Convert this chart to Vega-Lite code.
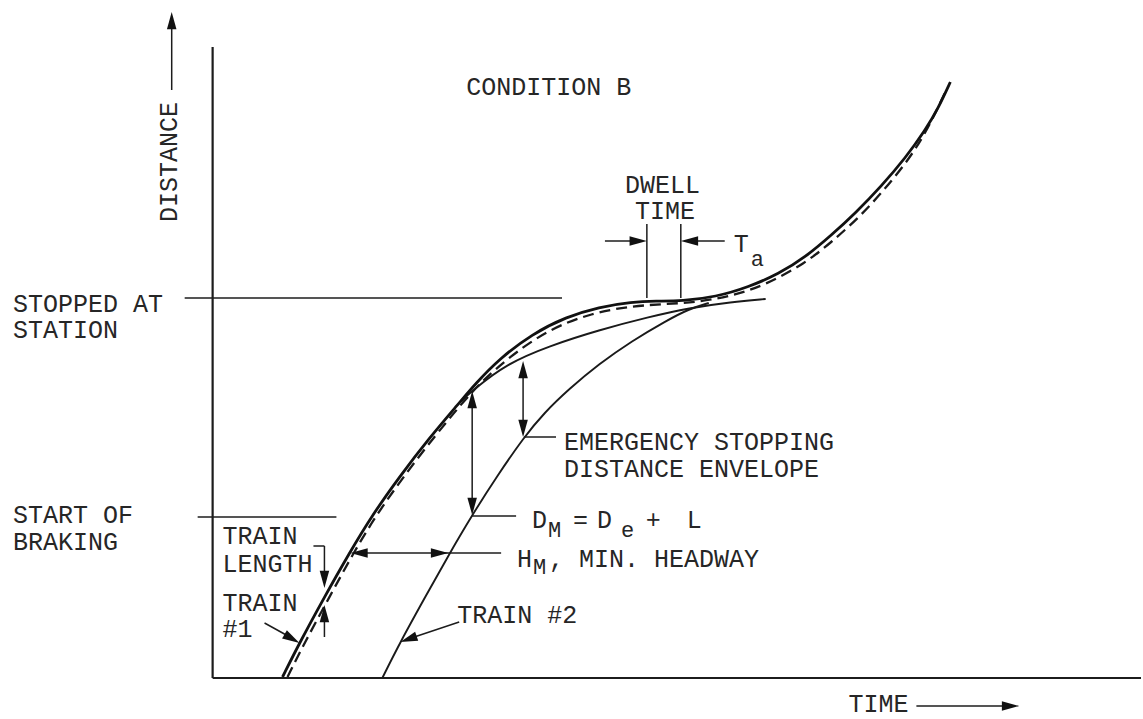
{
  "$schema": "https://vega.github.io/schema/vega-lite/v6.json",
  "autosize": {"type": "fit", "contains": "padding"},
  "width": 1143,
  "height": 719,
  "padding": 0,
  "background": "#ffffff",
  "config": {"view": {"stroke": null}},
  "datasets": {
    "curves": [
      {"curve": "train1", "t": 283, "d": 42},
      {"curve": "train1", "t": 300, "d": 76},
      {"curve": "train1", "t": 325, "d": 122},
      {"curve": "train1", "t": 350, "d": 166},
      {"curve": "train1", "t": 373, "d": 204},
      {"curve": "train1", "t": 400, "d": 242},
      {"curve": "train1", "t": 430, "d": 281},
      {"curve": "train1", "t": 460, "d": 316},
      {"curve": "train1", "t": 476, "d": 335},
      {"curve": "train1", "t": 500, "d": 360},
      {"curve": "train1", "t": 533, "d": 385},
      {"curve": "train1", "t": 567, "d": 402},
      {"curve": "train1", "t": 600, "d": 412},
      {"curve": "train1", "t": 633, "d": 417},
      {"curve": "train1", "t": 657, "d": 418},
      {"curve": "train1", "t": 683, "d": 418},
      {"curve": "train1", "t": 717, "d": 422},
      {"curve": "train1", "t": 750, "d": 432},
      {"curve": "train1", "t": 780, "d": 445},
      {"curve": "train1", "t": 807, "d": 462},
      {"curve": "train1", "t": 833, "d": 484},
      {"curve": "train1", "t": 857, "d": 506},
      {"curve": "train1", "t": 883, "d": 533},
      {"curve": "train1", "t": 907, "d": 561},
      {"curve": "train1", "t": 927, "d": 589},
      {"curve": "train1", "t": 940, "d": 611},
      {"curve": "train1", "t": 952, "d": 637},
      {"curve": "train1rear", "t": 288, "d": 42},
      {"curve": "train1rear", "t": 305, "d": 76},
      {"curve": "train1rear", "t": 330, "d": 122},
      {"curve": "train1rear", "t": 354, "d": 166},
      {"curve": "train1rear", "t": 377, "d": 204},
      {"curve": "train1rear", "t": 404, "d": 242},
      {"curve": "train1rear", "t": 434, "d": 281},
      {"curve": "train1rear", "t": 463, "d": 316},
      {"curve": "train1rear", "t": 481, "d": 336},
      {"curve": "train1rear", "t": 510, "d": 362},
      {"curve": "train1rear", "t": 550, "d": 390},
      {"curve": "train1rear", "t": 593, "d": 406},
      {"curve": "train1rear", "t": 633, "d": 413},
      {"curve": "train1rear", "t": 667, "d": 415},
      {"curve": "train1rear", "t": 700, "d": 417},
      {"curve": "train1rear", "t": 733, "d": 423},
      {"curve": "train1rear", "t": 767, "d": 434},
      {"curve": "train1rear", "t": 807, "d": 456},
      {"curve": "train1rear", "t": 833, "d": 477},
      {"curve": "train1rear", "t": 860, "d": 501},
      {"curve": "train1rear", "t": 883, "d": 526},
      {"curve": "train1rear", "t": 907, "d": 555},
      {"curve": "train1rear", "t": 927, "d": 585},
      {"curve": "train1rear", "t": 947, "d": 627},
      {"curve": "envelope", "t": 462, "d": 318},
      {"curve": "envelope", "t": 474, "d": 329},
      {"curve": "envelope", "t": 507, "d": 355},
      {"curve": "envelope", "t": 550, "d": 373},
      {"curve": "envelope", "t": 600, "d": 389},
      {"curve": "envelope", "t": 650, "d": 402},
      {"curve": "envelope", "t": 690, "d": 411},
      {"curve": "envelope", "t": 733, "d": 417},
      {"curve": "envelope", "t": 767, "d": 420},
      {"curve": "train2", "t": 383, "d": 41},
      {"curve": "train2", "t": 401, "d": 77},
      {"curve": "train2", "t": 426, "d": 122},
      {"curve": "train2", "t": 450, "d": 165},
      {"curve": "train2", "t": 473, "d": 204},
      {"curve": "train2", "t": 498, "d": 243},
      {"curve": "train2", "t": 525, "d": 282},
      {"curve": "train2", "t": 545, "d": 306},
      {"curve": "train2", "t": 570, "d": 330},
      {"curve": "train2", "t": 600, "d": 355},
      {"curve": "train2", "t": 633, "d": 378},
      {"curve": "train2", "t": 667, "d": 398},
      {"curve": "train2", "t": 690, "d": 410},
      {"curve": "train2", "t": 710, "d": 416}
    ],
    "rules": [
      {"part": "axis", "t": 213, "d": 672, "t2": 213, "d2": 41},
      {"part": "axis", "t": 213, "d": 41, "t2": 1143, "d2": 41},
      {"part": "arrow", "t": 172, "d": 692, "t2": 172, "d2": 629},
      {"part": "arrow", "t": 918, "d": 13, "t2": 1006, "d2": 13},
      {"part": "guide", "t": 185, "d": 421, "t2": 563, "d2": 421},
      {"part": "guide", "t": 198, "d": 202, "t2": 337, "d2": 202},
      {"part": "guide", "t": 648, "d": 495, "t2": 648, "d2": 421},
      {"part": "guide", "t": 682, "d": 495, "t2": 682, "d2": 421},
      {"part": "guide", "t": 606, "d": 478, "t2": 640, "d2": 478},
      {"part": "guide", "t": 690, "d": 478, "t2": 726, "d2": 478},
      {"part": "guide", "t": 314, "d": 173, "t2": 325, "d2": 173},
      {"part": "guide", "t": 325, "d": 173, "t2": 325, "d2": 139},
      {"part": "guide", "t": 325, "d": 107, "t2": 325, "d2": 82},
      {"part": "guide", "t": 265, "d": 96, "t2": 294, "d2": 80},
      {"part": "guide", "t": 460, "d": 97, "t2": 406, "d2": 79},
      {"part": "guide", "t": 356, "d": 166, "t2": 502, "d2": 166},
      {"part": "guide", "t": 473, "d": 320, "t2": 473, "d2": 210},
      {"part": "guide", "t": 473, "d": 203, "t2": 517, "d2": 203},
      {"part": "guide", "t": 524, "d": 352, "t2": 524, "d2": 288},
      {"part": "guide", "t": 525, "d": 282, "t2": 557, "d2": 282}
    ],
    "arrowheads": [
      {"t": 172, "d": 707, "dir": 0},
      {"t": 1021, "d": 13, "dir": 90},
      {"t": 648, "d": 478, "dir": 90},
      {"t": 682, "d": 478, "dir": 270},
      {"t": 325, "d": 131, "dir": 180},
      {"t": 325, "d": 114, "dir": 0},
      {"t": 300, "d": 76, "dir": 120},
      {"t": 401, "d": 77, "dir": 251},
      {"t": 351, "d": 166, "dir": 270},
      {"t": 449, "d": 166, "dir": 90},
      {"t": 473, "d": 328, "dir": 0},
      {"t": 473, "d": 204, "dir": 180},
      {"t": 524, "d": 358, "dir": 0},
      {"t": 524, "d": 282, "dir": 180}
    ],
    "labels": [
      {"label": "CONDITION B", "t": 467, "d": 624},
      {"label": "DWELL", "t": 626, "d": 526},
      {"label": "TIME", "t": 636, "d": 500},
      {"label": "T", "t": 735, "d": 467},
      {"label": "STOPPED AT", "t": 13, "d": 407},
      {"label": "STATION", "t": 13, "d": 381},
      {"label": "EMERGENCY STOPPING", "t": 565, "d": 269},
      {"label": "DISTANCE ENVELOPE", "t": 565, "d": 242},
      {"label": "START OF", "t": 13, "d": 196},
      {"label": "BRAKING", "t": 13, "d": 169},
      {"label": "D", "t": 533, "d": 191},
      {"label": "=", "t": 574, "d": 191},
      {"label": "D", "t": 598, "d": 191},
      {"label": "+", "t": 647, "d": 191},
      {"label": "L", "t": 688, "d": 191},
      {"label": "H", "t": 518, "d": 152},
      {"label": ", MIN. HEADWAY", "t": 550, "d": 152},
      {"label": "TRAIN", "t": 223, "d": 175},
      {"label": "LENGTH", "t": 223, "d": 147},
      {"label": "TRAIN", "t": 223, "d": 108},
      {"label": "#1", "t": 223, "d": 82},
      {"label": "TRAIN #2", "t": 458, "d": 96},
      {"label": "TIME", "t": 850, "d": 7}
    ],
    "subs": [
      {"label": "a", "t": 752, "d": 453},
      {"label": "M", "t": 549, "d": 182},
      {"label": "e", "t": 622, "d": 182},
      {"label": "M", "t": 534, "d": 145}
    ],
    "vlabels": [
      {"label": "DISTANCE", "t": 177, "d": 557}
    ]
  },
  "encoding": {
    "x": {"field": "t", "type": "quantitative", "scale": {"domain": [0, 1143], "nice": false, "zero": false}, "axis": null},
    "y": {"field": "d", "type": "quantitative", "scale": {"domain": [0, 719], "nice": false, "zero": false}, "axis": null}
  },
  "layer": [
    {
      "data": {"name": "rules"},
      "transform": [{"filter": "datum.part === 'axis'"}],
      "mark": {"type": "rule", "color": "#1c1c1c", "strokeWidth": 2.2},
      "encoding": {"x2": {"field": "t2"}, "y2": {"field": "d2"}}
    },
    {
      "data": {"name": "rules"},
      "transform": [{"filter": "datum.part !== 'axis'"}],
      "mark": {"type": "rule", "color": "#1c1c1c", "strokeWidth": 1.5},
      "encoding": {"x2": {"field": "t2"}, "y2": {"field": "d2"}}
    },
    {
      "data": {"name": "curves"},
      "transform": [{"filter": "datum.curve === 'envelope' || datum.curve === 'train2'"}],
      "mark": {"type": "line", "color": "#1a1a1a", "strokeWidth": 1.9, "interpolate": "basis"},
      "encoding": {"detail": {"field": "curve", "type": "nominal"}}
    },
    {
      "data": {"name": "curves"},
      "transform": [{"filter": "datum.curve === 'train1rear'"}],
      "mark": {"type": "line", "color": "#1a1a1a", "strokeWidth": 2.3, "strokeDash": [11, 6], "interpolate": "basis"},
      "encoding": {}
    },
    {
      "data": {"name": "curves"},
      "transform": [{"filter": "datum.curve === 'train1'"}],
      "mark": {"type": "line", "color": "#111111", "strokeWidth": 2.8, "interpolate": "basis"},
      "encoding": {}
    },
    {
      "data": {"name": "arrowheads"},
      "mark": {"type": "point", "shape": "M0,0L-0.55,2L0.55,2Z", "filled": true, "color": "#111111", "opacity": 1, "size": 300},
      "encoding": {"angle": {"field": "dir", "type": "quantitative", "scale": null}}
    },
    {
      "data": {"name": "labels"},
      "mark": {"type": "text", "font": "Liberation Mono", "fontSize": 25, "align": "left", "baseline": "alphabetic", "color": "#262626"},
      "encoding": {"text": {"field": "label"}}
    },
    {
      "data": {"name": "subs"},
      "mark": {"type": "text", "font": "Liberation Mono", "fontSize": 22, "align": "left", "baseline": "alphabetic", "color": "#262626"},
      "encoding": {"text": {"field": "label"}}
    },
    {
      "data": {"name": "vlabels"},
      "mark": {"type": "text", "font": "Liberation Mono", "fontSize": 25, "align": "center", "baseline": "alphabetic", "angle": 270, "color": "#262626"},
      "encoding": {"text": {"field": "label"}}
    }
  ]
}
